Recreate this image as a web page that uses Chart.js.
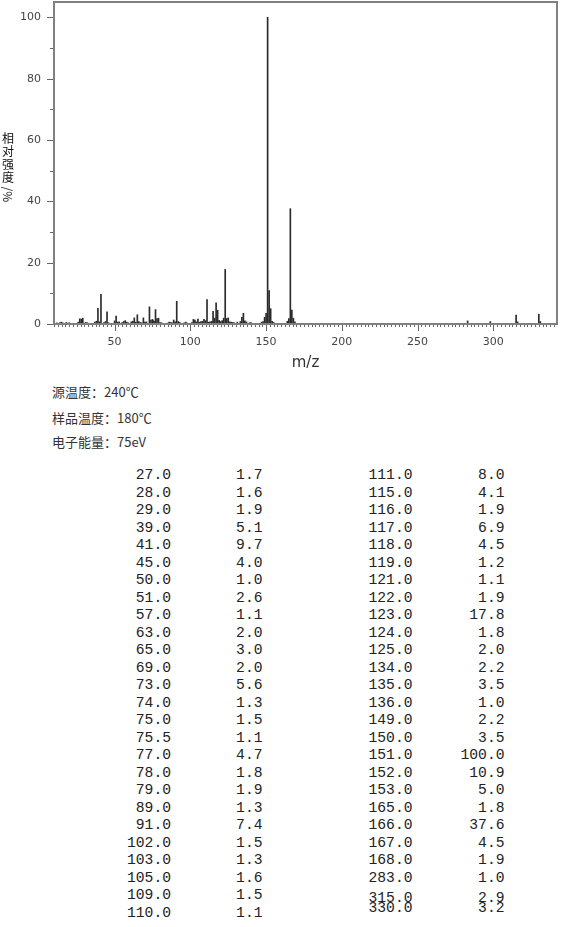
<!DOCTYPE html>
<html>
<head>
<meta charset="utf-8">
<title>Mass Spectrum</title>
<style>
    body {
        margin: 0;
        background: #fff;
        width: 570px;
        height: 927px;
        position: relative;
        overflow: hidden;
    }
    #chart-box {
        position: absolute;
        left: 0;
        top: 0;
        width: 570px;
        height: 375px;
    }
    #y-title {
        position: absolute;
        left: 1px;
        top: 131px;
        width: 14px;
        text-align: center;
        font: 12px "Noto Sans CJK SC", sans-serif;
        line-height: 13px;
        color: #111;
    }
    #y-title .rot {
        display: block;
        margin-top: 4px;
        transform: rotate(90deg);
        white-space: nowrap;
    }
    .cond {
        position: absolute;
        left: 52px;
        font: 13px "Noto Sans CJK SC", sans-serif;
        line-height: 18px;
        color: #333;
        white-space: nowrap;
    }
    .col {
        position: absolute;
        top: 467px;
        width: 100px;
        font: 14.67px "Liberation Mono", monospace;
        line-height: 17.5px;
        color: #222;
        text-align: right;
        white-space: pre;
    }
</style>
<script src="https://cdn.jsdelivr.net/npm/chart.js"></script>
</head>
<body>
<div id="chart-box"><canvas id="msChart"></canvas></div>
<div id="y-title">相<br>对<br>强<br>度<span class="rot">/%</span></div>
<div class="cond" style="top:383px">源温度：240℃</div>
<div class="cond" style="top:409px">样品温度：180℃</div>
<div class="cond" style="top:433px">电子能量：75eV</div>
<div id="col1" class="col" style="left:71px"></div>
<div id="col2" class="col" style="left:162.5px"></div>
<div id="col3" class="col" style="left:312.5px"></div>
<div id="col4" class="col" style="left:404.5px"></div>
<script>
// peak list printed under the chart (m/z, relative intensity %)
const tableMz = [27, 28, 29, 39, 41, 45, 50, 51, 57, 63, 65, 69, 73, 74, 75, 75.5, 77, 78, 79, 89, 91, 102, 103, 105, 109, 110,
                 111, 115, 116, 117, 118, 119, 121, 122, 123, 124, 125, 134, 135, 136, 149, 150, 151, 152, 153, 165, 166, 167, 168, 283, 315, 330];
const tableIntensity = [1.7, 1.6, 1.9, 5.1, 9.7, 4.0, 1.0, 2.6, 1.1, 2.0, 3.0, 2.0, 5.6, 1.3, 1.5, 1.1, 4.7, 1.8, 1.9, 1.3, 7.4, 1.5, 1.3, 1.6, 1.5, 1.1,
                        8.0, 4.1, 1.9, 6.9, 4.5, 1.2, 1.1, 1.9, 17.8, 1.8, 2.0, 2.2, 3.5, 1.0, 2.2, 3.5, 100.0, 10.9, 5.0, 1.8, 37.6, 4.5, 1.9, 1.0, 2.9, 3.2];

// small peaks seen on the plot but below the 1% list (estimated)
const minorMz = [12, 14, 15, 16, 18, 19, 20, 26, 30, 31, 32, 37, 38, 40, 43, 44, 46, 52, 53, 55, 56, 58, 59, 61, 62, 64, 66, 67, 68, 70,
                 71, 76, 80, 81, 85, 86, 87, 88, 90, 92, 93, 96, 97, 98, 101, 104, 106, 107, 108, 112, 113, 114, 120, 126, 127, 128,
                 129, 131, 133, 137, 139, 140, 147, 148, 154, 155, 164, 169, 298, 316, 331];
const minorIntensity = [0.4, 0.5, 0.6, 0.3, 0.5, 0.3, 0.4, 0.6, 0.3, 0.5, 0.4, 0.6, 0.9, 0.7, 0.5, 0.8, 0.4, 0.6, 0.7, 0.5, 0.8, 0.6, 0.4, 0.7, 0.9, 0.6, 0.8, 0.5, 0.4, 0.6,
                        0.7, 0.9, 0.5, 0.4, 0.3, 0.6, 0.5, 0.4, 0.7, 0.8, 0.5, 0.4, 0.6, 0.3, 0.5, 0.7, 0.6, 0.8, 0.9, 0.6, 0.7, 0.9, 0.8, 0.7, 0.6, 0.5,
                        0.4, 0.6, 0.8, 0.7, 0.4, 0.5, 0.6, 0.8, 0.9, 0.5, 0.9, 0.7, 0.8, 0.7, 0.8];

const xTickLabels = [50, 100, 150, 200, 250, 300];
const yTickLabels = [0, 20, 40, 60, 80, 100];
const xMinorStep = 2.5;
const yMinorStep = 10;

// fill the four text columns
const half = 26;
const fmt = v => v.toFixed(1);
document.getElementById('col1').textContent = tableMz.slice(0, half).map(fmt).join('\n');
document.getElementById('col2').textContent = tableIntensity.slice(0, half).map(fmt).join('\n');
['col3', 'col4'].forEach((id, k) => {
    const src = k === 0 ? tableMz : tableIntensity;
    const el = document.getElementById(id);
    src.slice(half).forEach((v, i, arr) => {
        const line = document.createElement('div');
        line.textContent = fmt(v);
        if (i === arr.length - 2) line.style.marginTop = '3px';
        if (i === arr.length - 1) line.style.marginTop = '-8px'; // last line sits tighter in the source
        el.appendChild(line);
    });
});

const peaks = tableMz.map((m, i) => ({x: m, y: tableIntensity[i]}))
    .concat(minorMz.map((m, i) => ({x: m, y: minorIntensity[i]})));

// box frame plus long/short tick marks
const frameTicks = {
    id: 'frameTicks',
    afterDraw(chart) {
        const {ctx, chartArea: a, scales: {x, y}} = chart;
        ctx.save();
        ctx.strokeStyle = '#666';
        ctx.lineWidth = 1;
        ctx.beginPath();
        for (let v = Math.ceil(x.min / xMinorStep) * xMinorStep; v <= x.max; v += xMinorStep) {
            const px = Math.round(x.getPixelForValue(v)) + 0.5;
            const len = v % 50 === 0 ? 7 : 3;
            ctx.moveTo(px, a.bottom);
            ctx.lineTo(px, a.bottom + len);
        }
        for (let v = 0; v <= 100; v += yMinorStep) {
            const py = Math.round(y.getPixelForValue(v)) + 0.5;
            const len = v % 20 === 0 ? 7 : 4;
            ctx.moveTo(a.left, py);
            ctx.lineTo(a.left - len, py);
        }
        ctx.stroke();
        ctx.strokeStyle = '#808080';
        ctx.lineWidth = 2;
        ctx.strokeRect(a.left, a.top, a.right - a.left, a.bottom - a.top);
        ctx.restore();
    }
};

new Chart(document.getElementById('msChart'), {
    type: 'bar',
    data: {
        datasets: [{
            data: peaks,
            backgroundColor: '#2a2a2a',
            borderWidth: 0,
            barThickness: 1
        }]
    },
    options: {
        responsive: true,
        maintainAspectRatio: false,
        animation: false,
        layout: {padding: {top: 2, right: 13, left: 0, bottom: 0}},
        plugins: {legend: {display: false}, tooltip: {enabled: false}},
        scales: {
            x: {
                type: 'linear',
                min: 10,
                max: 342,
                offset: false,
                grid: {display: false, drawTicks: false},
                border: {display: false},
                afterBuildTicks: s => { s.ticks = xTickLabels.map(v => ({value: v})); },
                afterFit: s => {
                    s.height = 51;
                    s.paddingLeft = 0;
                    s.paddingRight = 0;
                },
                ticks: {
                    padding: 12,
                    autoSkip: false,
                    maxRotation: 0,
                    color: '#444',
                    font: {family: 'DejaVu Sans', size: 11}
                },
                title: {
                    display: true,
                    text: 'm/z',
                    color: '#333',
                    font: {family: 'DejaVu Sans', size: 15},
                    padding: {top: 0, bottom: 3}
                }
            },
            y: {
                min: 0,
                max: 105,
                grid: {display: false, drawTicks: false},
                border: {display: false},
                afterBuildTicks: s => { s.ticks = yTickLabels.map(v => ({value: v})); },
                afterFit: s => {
                    s.width = 54;
                    s.paddingTop = 0;
                    s.paddingBottom = 0;
                },
                ticks: {
                    padding: 13,
                    color: '#444',
                    font: {family: 'DejaVu Sans', size: 11}
                }
            }
        }
    },
    plugins: [frameTicks]
});
</script>
</body>
</html>
